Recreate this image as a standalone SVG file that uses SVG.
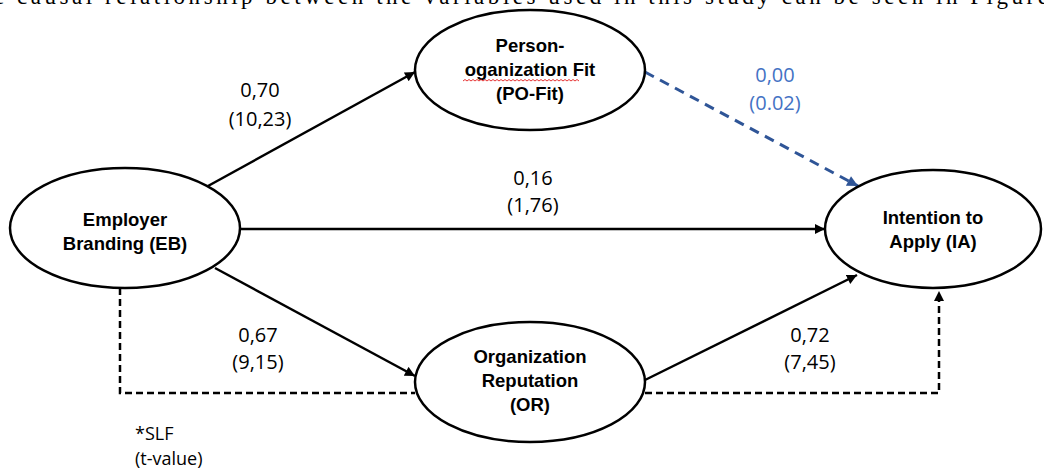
<svg xmlns="http://www.w3.org/2000/svg" width="1044" height="470" viewBox="0 0 1044 470">
<style>
.node{fill:#fff;stroke:#000;stroke-width:2.5}
.nt{font-family:"Liberation Sans",Arial,sans-serif;font-weight:bold;font-size:18.5px;fill:#000;text-anchor:middle}
.el{font-family:"Open Sans","Liberation Sans",sans-serif;font-size:20px;fill:#000;text-anchor:middle}
.st{font-family:"Open Sans","Liberation Sans",sans-serif;font-size:18px;fill:#000}
.blue{fill:#4472C4}
.ln{fill:none;stroke:#000;stroke-width:2.5}
.dash{fill:none;stroke:#000;stroke-width:2.5;stroke-dasharray:7 4}
.bdash{fill:none;stroke:#2F5597;stroke-width:3;stroke-dasharray:10 7}
</style>
<defs>
<marker id="ah" viewBox="0 0 10 10" refX="10" refY="5" markerWidth="4.4" markerHeight="4" orient="auto" markerUnits="strokeWidth">
<path d="M0,0 L10,5 L0,10 z" fill="#000"/>
</marker>
<marker id="ahb" viewBox="0 0 10 10" refX="10" refY="5" markerWidth="4" markerHeight="3.6" orient="auto" markerUnits="strokeWidth">
<path d="M0,0 L10,5 L0,10 z" fill="#2F5597"/>
</marker>
</defs>
<rect width="1044" height="470" fill="#fff"/>
<text x="-6" y="4" font-family="'Liberation Serif','Times New Roman',serif" font-size="23" textLength="1054" fill="#000">e causal relationship between the variables used in this study can be seen in Figure</text>

<g id="connectors">
<line class="ln" x1="208" y1="186" x2="415" y2="72" marker-end="url(#ah)"/>
<line class="ln" x1="240" y1="229" x2="825" y2="229" marker-end="url(#ah)"/>
<line class="ln" x1="215" y1="268" x2="415" y2="376" marker-end="url(#ah)"/>
<line class="ln" x1="645" y1="380" x2="857" y2="275" marker-end="url(#ah)"/>
<line class="bdash" x1="645" y1="72" x2="858" y2="186" marker-end="url(#ahb)"/>
<path class="dash" d="M120,288 V393 H415"/>
<path class="dash" d="M645,393 H939 V291" marker-end="url(#ah)"/>
</g>

<g id="node-po">
<ellipse class="node" cx="530" cy="70" rx="115" ry="60"/>
<text class="nt" x="530" y="52">Person-</text>
<text class="nt" x="530" y="76">oganization Fit</text>
<text class="nt" x="530" y="100">(PO-Fit)</text>
<path d="M463,81 l2,-1.5 l2,1.5 l2,-1.5 l2,1.5 l2,-1.5 l2,1.5 l2,-1.5 l2,1.5 l2,-1.5 l2,1.5 l2,-1.5 l2,1.5 l2,-1.5 l2,1.5 l2,-1.5 l2,1.5 l2,-1.5 l2,1.5 l2,-1.5 l2,1.5 l2,-1.5 l2,1.5 l2,-1.5 l2,1.5 l2,-1.5 l2,1.5 l2,-1.5 l2,1.5 l2,-1.5 l2,1.5 l2,-1.5 l2,1.5 l2,-1.5 l2,1.5 l2,-1.5 l2,1.5 l2,-1.5 l2,1.5 l2,-1.5 l2,1.5 l2,-1.5 l2,1.5 l2,-1.5 l2,1.5 l2,-1.5 l2,1.5 l2,-1.5 l2,1.5 l2,-1.5 l2,1.5 l2,-1.5 l2,1.5 l2,-1.5 l2,1.5 l2,-1.5 l2,1.5 l2,-1.5 l2,1.5" fill="none" stroke="#E00000" stroke-width="0.8"/>
</g>

<g id="node-eb">
<ellipse class="node" cx="125" cy="228" rx="115" ry="60"/>
<text class="nt" x="125" y="226">Employer</text>
<text class="nt" x="125" y="250">Branding (EB)</text>
</g>

<g id="node-ia">
<ellipse class="node" cx="933" cy="229" rx="108" ry="59"/>
<text class="nt" x="933" y="224">Intention to</text>
<text class="nt" x="933" y="248">Apply (IA)</text>
</g>

<g id="node-or">
<ellipse class="node" cx="530" cy="382" rx="115" ry="60"/>
<text class="nt" x="530" y="363">Organization</text>
<text class="nt" x="530" y="387">Reputation</text>
<text class="nt" x="530" y="411">(OR)</text>
</g>

<g id="labels">
<text class="el" x="260" y="97">0,70</text>
<text class="el" x="260" y="126">(10,23)</text>
<text class="el" x="533" y="185">0,16</text>
<text class="el" x="533" y="212">(1,76)</text>
<text class="el" x="258" y="342">0,67</text>
<text class="el" x="258" y="369">(9,15)</text>
<text class="el" x="810" y="342">0,72</text>
<text class="el" x="810" y="369">(7,45)</text>
<text class="el blue" x="775" y="82">0,00</text>
<text class="el blue" x="775" y="110">(0.02)</text>
<text class="st" x="135" y="440">*SLF</text>
<text class="st" x="135" y="465">(t-value)</text>
</g>
</svg>
